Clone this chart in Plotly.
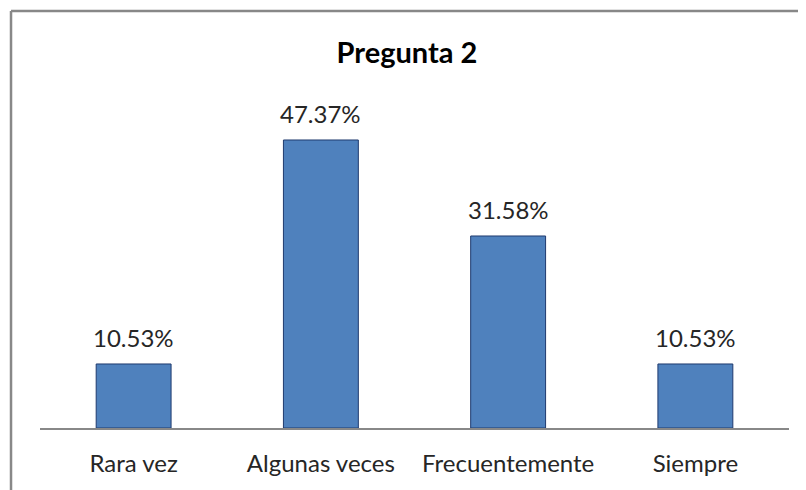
import plotly.graph_objects as go

# Pregunta 2 - porcentaje de respuestas
categorias = ["Rara vez", "Algunas veces", "Frecuentemente", "Siempre"]
porcentajes = [10.53, 47.37, 31.58, 10.53]
etiquetas = ["10.53%", "47.37%", "31.58%", "10.53%"]

fuente = "Lato, Open Sans, sans-serif"

fig = go.Figure(go.Bar(
    x=categorias,
    y=porcentajes,
    marker=dict(color="#4F81BD", line=dict(color="#1F3A6E", width=1)),
    width=0.4,
    hoverinfo="skip",
))

# etiquetas encima de las barras
for cat, val, txt in zip(categorias, porcentajes, etiquetas):
    fig.add_annotation(x=cat, y=val, text=txt, showarrow=False,
                       yanchor="bottom", yshift=10,
                       font=dict(family=fuente, size=24, color="#262626"))

# marco del grafico (solo lados superior e izquierdo visibles)
fig.add_shape(type="line", xref="paper", yref="paper",
              x0=-0.0387, x1=1.1, y0=1.3717, y1=1.3717,
              line=dict(color="#888888", width=2.5))
fig.add_shape(type="line", xref="paper", yref="paper",
              x0=-0.0387, x1=-0.0387, y0=1.3717, y1=-0.4,
              line=dict(color="#888888", width=2.5))

fig.update_layout(
    width=798, height=482,
    margin=dict(l=32, r=17, t=116, b=62),
    paper_bgcolor="white", plot_bgcolor="white",
    showlegend=False,
    title=dict(text="<b>Pregunta 2</b>", x=0.5, xanchor="center",
               y=0.9066, yanchor="middle",
               font=dict(family=fuente, size=29, color="#000000")),
    font=dict(family=fuente, size=24, color="#262626"),
    xaxis=dict(showline=True, linecolor="#888888", linewidth=2,
               ticks="", ticklabelstandoff=13, showgrid=False,
               tickfont=dict(size=24, color="#262626")),
    yaxis=dict(range=[0, 50], visible=False, showgrid=False, zeroline=False),
)

fig.write_html("out.html")
